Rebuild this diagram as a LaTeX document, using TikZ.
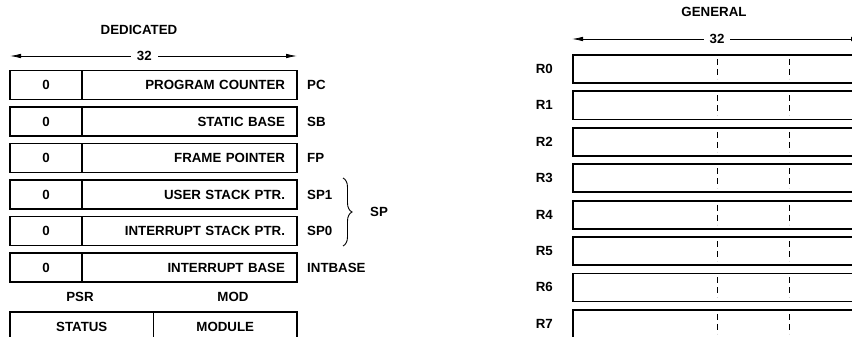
\documentclass[tikz,border=0pt]{standalone}
\usepackage{fontspec}
\setmainfont{Liberation Sans}
\usetikzlibrary{arrows.meta, positioning, decorations.pathreplacing, calc}

\begin{document}
\begin{tikzpicture}[
        x=1pt, y=1pt,
        font=\fontsize{13.3}{15}\selectfont\bfseries,
        reg_box/.style={rectangle, draw, line width=1.8pt, minimum width=287pt, minimum height=29pt,
                        text width=263pt, inner xsep=12pt, inner ysep=0pt, outer sep=0pt, align=right},
        zero_field/.style={rectangle, minimum width=72pt, minimum height=29pt, inner sep=0pt, outer sep=0pt},
        half_box/.style={rectangle, draw, line width=1.8pt, minimum width=143.5pt, minimum height=29pt,
                         inner sep=0pt, outer sep=0pt},
        gen_box/.style={rectangle, draw, line width=1.8pt, minimum width=288pt, minimum height=28pt,
                        inner sep=0pt, outer sep=0pt},
        field_sep/.style={line width=1.3pt},
        byte_sep/.style={line width=0.8pt, dash pattern=on 6pt off 4pt},
        width_arrow/.style={{Latex[length=11pt,width=4.5pt]}-{Latex[length=11pt,width=4.5pt]}, line width=0.8pt},
        lbl/.style={inner sep=0pt},
        head/.style={inner sep=0pt}
    ]

    \clip (0,0) rectangle (852,-337);

    % dedicated registers
    \node[head] (dedicated) at (139,-30) {DEDICATED};
    \coordinate (ded_l) at (10,-56);
    \coordinate (ded_r) at (297,-56);
    \draw[width_arrow] (ded_l) -- node[pos=0.468, fill=white, inner xsep=6pt, inner ysep=1pt] {32} (ded_r);

    \node[reg_box] (pc) at (153.5,-85) {PROGRAM COUNTER};
    \node[reg_box, below=7.5pt of pc] (sb) {STATIC BASE};
    \node[reg_box, below=7.5pt of sb] (fp) {FRAME POINTER};
    \node[reg_box, below=7.5pt of fp] (sp1) {USER STACK PTR.};
    \node[reg_box, below=7.5pt of sp1] (sp0) {INTERRUPT STACK PTR.};
    \node[reg_box, below=7.5pt of sp0] (intbase) {INTERRUPT BASE};

    \foreach \r/\t in {pc/PC, sb/SB, fp/FP, sp1/SP1, sp0/SP0, intbase/INTBASE} {
        \node[zero_field, anchor=west] (\r_zero) at (\r.west) {0};
        \draw[field_sep] (\r_zero.north east) -- (\r_zero.south east);
        \node[lbl, anchor=west, right=10pt of \r] (\r_lbl) {\t};
    }

    \coordinate (brace_top) at (343,-178);
    \coordinate (brace_bot) at (343,-246);
    \draw[decorate, decoration={brace, amplitude=9pt}, line width=0.9pt] (brace_top) -- (brace_bot);
    \node[lbl, anchor=west] (sp_lbl) at (370,-212) {SP};

    \node[head] (psr) at (80,-297) {PSR};
    \node[head] (mod) at (233,-297) {MOD};
    \node[half_box] (status) at (81.75,-326.5) {STATUS};
    \node[half_box, right=0pt of status] (module) {MODULE};

    % general registers
    \node[head] (general) at (714,-12) {GENERAL};
    \coordinate (gen_l) at (572,-39);
    \coordinate (gen_r) at (862,-39);
    \draw[width_arrow] (gen_l) -- node[fill=white, inner xsep=6pt, inner ysep=1pt] {32} (gen_r);

    \foreach \i in {0,...,7} {
        \node[gen_box] (r\i) at (717,-69-36.4*\i) {};
        \node[lbl, left=20pt of r\i] (r\i_lbl) {R\i};
        \draw[byte_sep] ([yshift=-4pt]r\i.north) -- ([yshift=4pt]r\i.south);
        \draw[byte_sep] ([xshift=72pt,yshift=-4pt]r\i.north) -- ([xshift=72pt,yshift=4pt]r\i.south);
    }
\end{tikzpicture}
\end{document}
